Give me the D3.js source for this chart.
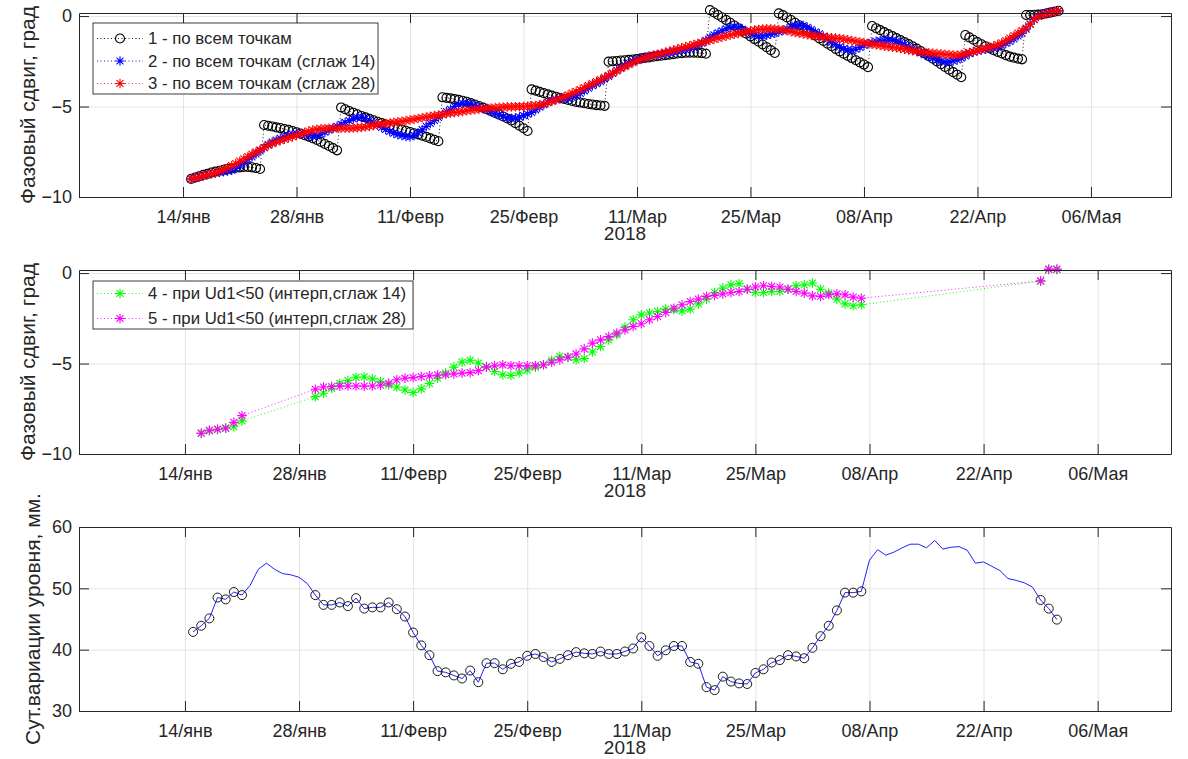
<!DOCTYPE html>
<html>
<head>
<meta charset="utf-8">
<script src="https://cdn.jsdelivr.net/npm/d3@7"></script>
<style>
  body { margin: 0; background: #fff; }
  svg { display: block; font-family: 'Liberation Sans', Arial, sans-serif; }
</style>
</head>
<body>
<script>
// ---------- data ----------
const xTickDays = ['2018-01-14', '2018-01-28', '2018-02-11', '2018-02-25', '2018-03-11',
  '2018-03-25', '2018-04-08', '2018-04-22', '2018-05-06'];
const xTickLabels = ['14/янв', '28/янв', '11/Февр', '25/Февр', '11/Мар', '25/Мар', '08/Апр', '22/Апр', '06/Мая'];
const yearLabel = '2018';

// panel 1: one value every 12 h, first one on 15 Jan 00:00
const p1Step = 0.5;
const phaseAll = [
  -9.0, -8.92, -8.85, -8.78, -8.72, -8.65, -8.6, -8.55, -8.5, -8.45,
  -8.42, -8.38, -8.36, -8.34, -8.34, -8.36, -8.4, -8.45, -6.02, -6.06,
  -6.1, -6.15, -6.19, -6.24, -6.29, -6.35, -6.42, -6.5, -6.58, -6.66,
  -6.75, -6.85, -6.96, -7.07, -7.18, -7.3, -7.42, -5.05, -5.15, -5.25,
  -5.34, -5.43, -5.52, -5.6, -5.68, -5.76, -5.84, -5.92, -5.99, -6.06,
  -6.13, -6.2, -6.27, -6.34, -6.41, -6.48, -6.54, -6.61, -6.68, -6.76,
  -6.84, -6.92, -4.49, -4.52, -4.55, -4.59, -4.63, -4.68, -4.74, -4.81,
  -4.89, -4.97, -5.06, -5.15, -5.25, -5.35, -5.45, -5.55, -5.66, -5.77,
  -5.92, -6.06, -6.2, -6.35, -4.05, -4.12, -4.19, -4.26, -4.33, -4.4,
  -4.46, -4.52, -4.58, -4.64, -4.69, -4.74, -4.78, -4.82, -4.86, -4.89,
  -4.92, -4.94, -4.96, -2.52, -2.5, -2.48, -2.46, -2.44, -2.42, -2.4,
  -2.37, -2.34, -2.31, -2.28, -2.25, -2.22, -2.19, -2.16, -2.13, -2.1,
  -2.07, -2.05, -2.03, -2.02, -2.02, -2.03, -2.05, -2.08, 0.33, 0.2,
  0.06, -0.08, -0.22, -0.37, -0.52, -0.67, -0.82, -0.97, -1.12, -1.27,
  -1.42, -1.57, -1.72, -1.88, -2.04, 0.15, 0.05, -0.08, -0.22, -0.37,
  -0.51, -0.65, -0.79, -0.93, -1.08, -1.23, -1.38, -1.53, -1.67, -1.81,
  -1.95, -2.08, -2.2, -2.32, -2.44, -2.56, -2.68, -2.82, -0.55, -0.67,
  -0.78, -0.89, -1.0, -1.11, -1.22, -1.33, -1.44, -1.55, -1.67, -1.8,
  -1.93, -2.07, -2.21, -2.36, -2.51, -2.66, -2.81, -2.96, -3.1, -3.24,
  -3.38, -1.05, -1.18, -1.31, -1.44, -1.56, -1.67, -1.78, -1.88, -1.98,
  -2.07, -2.16, -2.24, -2.3, -2.35, -2.39, 0.06, 0.06, 0.07, 0.08,
  0.1, 0.14, 0.19, 0.24, 0.29
];
const phaseSm14 = [
  -9.0, -8.95, -8.88, -8.82, -8.76, -8.71, -8.67, -8.63, -8.6, -8.56,
  -8.52, -8.42, -8.28, -8.1, -7.93, -7.78, -7.62, -7.45, -7.27, -7.1,
  -6.97, -6.86, -6.76, -6.68, -6.6, -6.53, -6.5, -6.52, -6.56, -6.6,
  -6.63, -6.62, -6.53, -6.42, -6.31, -6.2, -6.1, -5.98, -5.88, -5.78,
  -5.68, -5.61, -5.6, -5.66, -5.76, -5.88, -6.02, -6.15, -6.27, -6.38,
  -6.47, -6.55, -6.6, -6.65, -6.67, -6.6, -6.45, -6.28, -6.1, -5.93,
  -5.77, -5.6, -5.44, -5.28, -5.15, -5.0, -4.88, -4.82, -4.83, -4.88,
  -4.95, -5.02, -5.1, -5.19, -5.28, -5.37, -5.46, -5.55, -5.62, -5.65,
  -5.64, -5.58, -5.5, -5.42, -5.32, -5.18, -5.04, -4.9, -4.77, -4.66,
  -4.6, -4.57, -4.56, -4.55, -4.5, -4.4, -4.27, -4.13, -3.98, -3.85,
  -3.74, -3.62, -3.48, -3.33, -3.17, -3.0, -2.85, -2.72, -2.6, -2.5,
  -2.4, -2.33, -2.27, -2.22, -2.18, -2.15, -2.12, -2.08, -2.03, -1.98,
  -1.94, -1.9, -1.86, -1.81, -1.74, -1.64, -1.5, -1.34, -1.18, -1.04,
  -0.92, -0.81, -0.71, -0.63, -0.59, -0.62, -0.72, -0.85, -0.97, -1.06,
  -1.1, -1.1, -1.06, -1.0, -0.95, -0.88, -0.8, -0.7, -0.6, -0.53,
  -0.5, -0.53, -0.62, -0.75, -0.88, -0.98, -1.12, -1.28, -1.44, -1.58,
  -1.7, -1.8, -1.86, -1.88, -1.83, -1.73, -1.62, -1.53, -1.46, -1.4,
  -1.36, -1.34, -1.33, -1.34, -1.38, -1.46, -1.57, -1.68, -1.8, -1.92,
  -2.03, -2.13, -2.23, -2.33, -2.42, -2.49, -2.53, -2.52, -2.48, -2.42,
  -2.32, -2.2, -2.08, -1.98, -1.92, -1.87, -1.83, -1.8, -1.77, -1.72,
  -1.62, -1.5, -1.4, -1.26, -1.1, -0.95, -0.72, -0.44, -0.18, 0.0,
  0.12, 0.18, 0.22, 0.26, 0.29
];
const phaseSm28 = [
  -9.0, -8.95, -8.89, -8.83, -8.77, -8.71, -8.65, -8.57, -8.48, -8.38,
  -8.27, -8.15, -8.02, -7.89, -7.76, -7.63, -7.51, -7.39, -7.27, -7.15,
  -7.05, -6.96, -6.88, -6.8, -6.73, -6.67, -6.6, -6.52, -6.44, -6.36,
  -6.3, -6.26, -6.23, -6.21, -6.2, -6.2, -6.2, -6.2, -6.2, -6.2,
  -6.19, -6.17, -6.15, -6.12, -6.08, -6.04, -6.0, -5.97, -5.94, -5.91,
  -5.88, -5.85, -5.82, -5.78, -5.74, -5.7, -5.66, -5.62, -5.58, -5.54,
  -5.5, -5.47, -5.44, -5.4, -5.36, -5.33, -5.3, -5.27, -5.23, -5.2,
  -5.17, -5.15, -5.12, -5.1, -5.08, -5.06, -5.04, -5.03, -5.02, -5.02,
  -5.01, -5.01, -5.0, -4.98, -4.96, -4.94, -4.91, -4.86, -4.79, -4.71,
  -4.63, -4.55, -4.46, -4.36, -4.26, -4.16, -4.06, -3.95, -3.84, -3.73,
  -3.62, -3.51, -3.39, -3.27, -3.15, -3.03, -2.91, -2.8, -2.69, -2.58,
  -2.47, -2.38, -2.3, -2.23, -2.17, -2.11, -2.06, -2.0, -1.94, -1.88,
  -1.82, -1.76, -1.7, -1.64, -1.58, -1.52, -1.46, -1.4, -1.34, -1.28,
  -1.22, -1.16, -1.1, -1.05, -1.0, -0.96, -0.92, -0.87, -0.82, -0.77,
  -0.74, -0.72, -0.71, -0.71, -0.72, -0.74, -0.77, -0.81, -0.86, -0.91,
  -0.95, -0.99, -1.03, -1.07, -1.1, -1.13, -1.16, -1.18, -1.2, -1.22,
  -1.24, -1.27, -1.31, -1.35, -1.39, -1.43, -1.47, -1.51, -1.55, -1.59,
  -1.62, -1.66, -1.69, -1.72, -1.75, -1.79, -1.83, -1.87, -1.91, -1.95,
  -1.98, -2.01, -2.03, -2.05, -2.07, -2.09, -2.11, -2.13, -2.15, -2.15,
  -2.13, -2.08, -2.02, -1.96, -1.9, -1.84, -1.78, -1.72, -1.66, -1.58,
  -1.48, -1.36, -1.22, -1.08, -0.94, -0.8, -0.66, -0.45, -0.2, -0.02,
  0.08, 0.14, 0.19, 0.24, 0.29
];

// panel 2: days counted from 14 Jan (only days with Ud1<50)
const p2Days = [
  2, 3, 4, 5, 6, 7,
  16, 17, 18, 19, 20, 21, 22, 23, 24, 25,
  26, 27, 28, 29, 30, 31, 32, 33, 34, 35,
  36, 37, 38, 39, 40, 41, 42, 43, 44, 45,
  46, 47, 48, 49, 50, 51, 52, 53, 54, 55,
  56, 57, 58, 59, 60, 61, 62, 63, 64, 65,
  66, 67, 68, 69, 70, 71, 72, 73, 74, 75,
  76, 77, 78, 79, 80, 81, 82, 83,
  105, 106, 107
];
const phaseUd14 = [
  -8.85, -8.72, -8.65, -8.55, -8.49, -8.17,
  -6.83, -6.64, -6.37, -6.09, -5.94, -5.76, -5.74, -5.85, -6.0, -6.18,
  -6.3, -6.46, -6.6, -6.4, -6.1, -5.81, -5.53, -5.2, -4.92, -4.82,
  -4.98, -5.17, -5.44, -5.62, -5.66, -5.52, -5.36, -5.2, -5.07, -4.82,
  -4.6, -4.65, -4.8, -4.72, -4.36, -4.06, -3.69, -3.41, -2.99, -2.58,
  -2.31, -2.21, -2.12, -1.99, -2.03, -2.09, -1.99, -1.7, -1.44, -1.07,
  -0.83, -0.65, -0.59, -0.89, -1.07, -1.07, -1.02, -1.02, -0.89, -0.7,
  -0.65, -0.55, -0.89, -1.11, -1.44, -1.7, -1.81, -1.75,
  -0.45, 0.2, 0.2
];
const phaseUd28 = [
  -8.85, -8.69, -8.63, -8.58, -8.25, -7.88,
  -6.42, -6.3, -6.27, -6.25, -6.24, -6.24, -6.25, -6.24, -6.2, -6.09,
  -5.9, -5.81, -5.78, -5.72, -5.68, -5.63, -5.62, -5.57, -5.53, -5.5,
  -5.39, -5.2, -5.13, -5.07, -5.12, -5.13, -5.13, -5.12, -5.07, -4.93,
  -4.8, -4.65, -4.47, -4.19, -3.87, -3.69, -3.51, -3.32, -3.14, -2.95,
  -2.8, -2.58, -2.4, -2.18, -1.94, -1.75, -1.57, -1.44, -1.29, -1.24,
  -1.15, -1.07, -1.02, -0.89, -0.77, -0.7, -0.74, -0.77, -0.89, -1.02,
  -1.11, -1.26, -1.29, -1.2, -1.15, -1.2, -1.33, -1.39,
  -0.43, 0.22, 0.22
];

// panel 3: daily values from 15 Jan
const levelVar = [
  42.9, 43.9, 45.1, 48.5, 48.2, 49.4, 48.9, 50.5, 53.1, 54.1,
  53.1, 52.4, 52.2, 51.8, 50.8, 48.9, 47.3, 47.3, 47.7, 47.1,
  48.4, 46.7, 46.9, 46.9, 47.7, 46.6, 45.4, 42.8, 40.7, 39.1,
  36.5, 36.3, 35.8, 35.3, 36.6, 34.7, 37.8, 37.8, 36.8, 37.7,
  38.0, 39.0, 39.3, 38.8, 38.0, 38.5, 39.1, 39.6, 39.4, 39.3,
  39.7, 39.3, 39.3, 39.7, 40.2, 42.0, 40.6, 39.0, 39.9, 40.6,
  40.6, 38.0, 37.7, 33.9, 33.4, 35.6, 34.8, 34.5, 34.4, 36.2,
  36.8, 37.9, 38.3, 39.1, 38.9, 38.6, 40.3, 42.2, 43.9, 46.4,
  49.3, 49.3, 49.5, 54.6, 56.3, 55.4, 55.9, 56.6, 57.2, 57.2,
  56.6, 57.8, 56.4, 56.7, 56.8, 56.2, 54.1, 54.3, 53.6, 52.9,
  51.6, 51.3, 50.9, 50.2, 48.1, 46.7, 44.9
];
const udLimit = 50;

// ---------- layout ----------
const width = 1188;
const height = 759;
const left = 79;
const right = 1171;
const textColor = '#262626';
const gridColor = '#e3e3e3';

const parseDay = d3.utcParse('%Y-%m-%d');
const jan14 = parseDay('2018-01-14');
const atDay = (t) => new Date(jan14.getTime() + t * 864e5);
const xTicks = xTickDays.map(parseDay);

const svg = d3.select('body').append('svg').attr('width', width).attr('height', height);

const starPath = (h) => {
	const a = h * 0.72;
	return `M${-h},0H${h}M0,${-h}V${h}M${-a},${-a}L${a},${a}M${-a},${a}L${a},${-a}`;
};

function drawGrid(g, x, y, yTicks, top, bottom) {
	g.append('g')
		.attr('transform', `translate(0,${bottom})`)
		.call(d3.axisBottom(x).tickValues(xTicks).tickSize(-(bottom - top)).tickFormat(''))
		.call((s) => s.select('.domain').remove())
		.selectAll('line').attr('stroke', gridColor);
	g.append('g')
		.attr('transform', `translate(${left},0)`)
		.call(d3.axisLeft(y).tickValues(yTicks).tickSize(-(right - left)).tickFormat(''))
		.call((s) => s.select('.domain').remove())
		.selectAll('line').attr('stroke', gridColor);
}

function drawFrame(g, x, y, yTicks, yFormat, top, bottom, yLabel, yLabelX) {
	const styleAxis = (s) => {
		s.select('.domain').attr('stroke', textColor);
		s.selectAll('.tick line').attr('stroke', textColor);
		s.selectAll('.tick text').attr('fill', textColor).style('font-size', '18px');
		s.attr('font-family', null);
	};
	g.append('g').attr('transform', `translate(0,${bottom})`)
		.call(d3.axisBottom(x).tickValues(xTicks).tickSizeInner(-10).tickSizeOuter(0).tickPadding(13)
			.tickFormat((d, i) => xTickLabels[i]))
		.call(styleAxis);
	g.append('g').attr('transform', `translate(0,${top})`)
		.call(d3.axisTop(x).tickValues(xTicks).tickSizeInner(-10).tickSizeOuter(0).tickFormat(''))
		.call(styleAxis);
	g.append('g').attr('transform', `translate(${left},0)`)
		.call(d3.axisLeft(y).tickValues(yTicks).tickSizeInner(-10).tickSizeOuter(0).tickPadding(7).tickFormat(yFormat))
		.call(styleAxis);
	g.append('g').attr('transform', `translate(${right},0)`)
		.call(d3.axisRight(y).tickValues(yTicks).tickSizeInner(-10).tickSizeOuter(0).tickFormat(''))
		.call(styleAxis);

	g.append('text')
		.attr('x', (left + right) / 2)
		.attr('y', bottom + 43)
		.attr('text-anchor', 'middle')
		.attr('fill', textColor)
		.style('font-size', '19px')
		.text(yearLabel);

	g.append('text')
		.attr('transform', `translate(${yLabelX},${(top + bottom) / 2}) rotate(-90)`)
		.attr('dy', '0.35em')
		.attr('text-anchor', 'middle')
		.attr('fill', textColor)
		.style('font-size', '21px')
		.text(yLabel);
}

function drawSeries(g, pts, x, y, color, marker) {
	g.append('path')
		.datum(pts)
		.attr('fill', 'none')
		.attr('stroke', color)
		.attr('stroke-width', 0.9)
		.attr('stroke-dasharray', '1,2.5')
		.attr('d', d3.line().x((d) => x(d.date)).y((d) => y(d.v)));
	const m = g.append('g').selectAll('path').data(pts).join('path')
		.attr('transform', (d) => `translate(${x(d.date)},${y(d.v)})`)
		.attr('fill', 'none')
		.attr('stroke', color)
		.attr('stroke-width', 1.1);
	if (marker === 'circle') {
		m.attr('d', d3.symbol(d3.symbolCircle, 64));
	} else {
		m.attr('d', starPath(4.8));
	}
}

function drawLegend(g, x0, y0, w, items) {
	const rowH = items.length === 3 ? 22.5 : 25;
	const h = items.length === 3 ? 71 : 48;
	g.append('rect')
		.attr('x', x0).attr('y', y0).attr('width', w).attr('height', h)
		.attr('fill', '#fff').attr('stroke', textColor).attr('stroke-width', 0.9);
	items.forEach((it, i) => {
		const cy = y0 + 15.5 + i * rowH - (items.length === 3 ? 0 : 3);
		g.append('line')
			.attr('x1', x0 + 4).attr('x2', x0 + 50).attr('y1', cy).attr('y2', cy)
			.attr('stroke', it.color).attr('stroke-width', 0.9).attr('stroke-dasharray', '1,2.5');
		g.append('path')
			.attr('transform', `translate(${x0 + 27},${cy})`)
			.attr('d', it.marker === 'circle' ? d3.symbol(d3.symbolCircle, 64)() : starPath(4.8))
			.attr('fill', 'none').attr('stroke', it.color).attr('stroke-width', 1.1);
		g.append('text')
			.attr('x', x0 + 55).attr('y', cy).attr('dy', '0.35em')
			.attr('fill', textColor).style('font-size', '16.8px')
			.text(it.label);
	});
}

// ---------- panel 1 ----------
{
	const top = 13, bottom = 197;
	const x = d3.scaleUtc().domain([ new Date(Date.UTC(2018, 0, 1, 4)), new Date(Date.UTC(2018, 4, 15, 21)) ]).range([ left, right ]);
	const y = d3.scaleLinear().domain([ -10, 0.17 ]).range([ bottom, top ]);
	const g = svg.append('g');
	drawGrid(g, x, y, [ -10, -5, 0 ], top, bottom);
	const pts = (arr) => arr.map((v, i) => ({ date: atDay(1 + i * p1Step), v }));
	drawSeries(g, pts(phaseAll), x, y, '#000000', 'circle');
	drawSeries(g, pts(phaseSm14), x, y, '#0000ff', 'star');
	drawSeries(g, pts(phaseSm28), x, y, '#ff0000', 'star');
	drawFrame(g, x, y, [ -10, -5, 0 ], d3.format('d'), top, bottom, 'Фазовый сдвиг, град', 28);
	drawLegend(g, 93, 23, 285, [
		{ label: '1 - по всем точкам', color: '#000000', marker: 'circle' },
		{ label: '2 - по всем точкам (сглаж 14)', color: '#0000ff', marker: 'star' },
		{ label: '3 - по всем точкам (сглаж 28)', color: '#ff0000', marker: 'star' }
	]);
}

// ---------- panel 2 ----------
{
	const top = 270, bottom = 454;
	const x = d3.scaleUtc().domain([ parseDay('2018-01-01'), parseDay('2018-05-15') ]).range([ left, right ]);
	const y = d3.scaleLinear().domain([ -10, 0.17 ]).range([ bottom, top ]);
	const g = svg.append('g');
	drawGrid(g, x, y, [ -10, -5, 0 ], top, bottom);
	const pts = (arr) => arr.map((v, i) => ({ date: atDay(p2Days[i]), v }));
	drawSeries(g, pts(phaseUd14), x, y, '#00ff00', 'star');
	drawSeries(g, pts(phaseUd28), x, y, '#ff00ff', 'star');
	drawFrame(g, x, y, [ -10, -5, 0 ], d3.format('d'), top, bottom, 'Фазовый сдвиг, град', 28);
	drawLegend(g, 93, 281, 320, [
		{ label: '4 - при Ud1<50 (интерп,сглаж 14)', color: '#00ff00', marker: 'star' },
		{ label: '5 - при Ud1<50 (интерп,сглаж 28)', color: '#ff00ff', marker: 'star' }
	]);
}

// ---------- panel 3 ----------
{
	const top = 527, bottom = 711;
	const x = d3.scaleUtc().domain([ parseDay('2018-01-01'), parseDay('2018-05-15') ]).range([ left, right ]);
	const y = d3.scaleLinear().domain([ 30, 60 ]).range([ bottom, top ]);
	const g = svg.append('g');
	drawGrid(g, x, y, [ 30, 40, 50, 60 ], top, bottom);
	const pts = levelVar.map((v, i) => ({ date: atDay(i + 1), v }));
	g.append('path')
		.datum(pts)
		.attr('fill', 'none')
		.attr('stroke', '#2020ff')
		.attr('stroke-width', 1)
		.attr('d', d3.line().x((d) => x(d.date)).y((d) => y(d.v)));
	g.append('g').selectAll('circle').data(pts.filter((d) => d.v < udLimit)).join('circle')
		.attr('cx', (d) => x(d.date))
		.attr('cy', (d) => y(d.v))
		.attr('r', 4.5)
		.attr('fill', 'none')
		.attr('stroke', '#1a1a1a')
		.attr('stroke-width', 1);
	drawFrame(g, x, y, [ 30, 40, 50, 60 ], d3.format('d'), top, bottom, 'Сут.вариации уровня, мм.', 33);
}
</script>
</body>
</html>
